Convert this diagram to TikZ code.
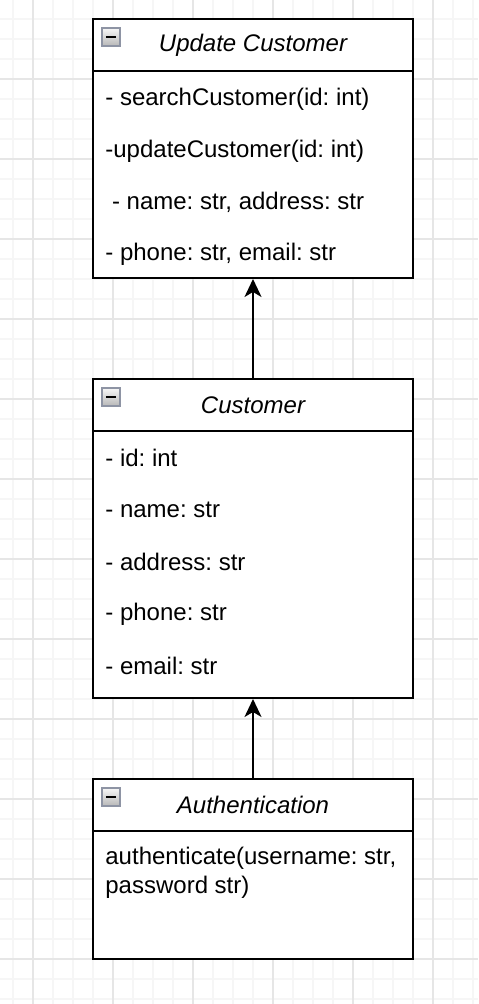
\documentclass[tikz,border=0pt]{standalone}
\usepackage{fontspec}
\setmainfont{Liberation Sans}
\usepackage{tikz}
\usetikzlibrary{arrows.meta}
\frenchspacing

\definecolor{minorgrid}{HTML}{F6F6F6}
\definecolor{majorgrid}{HTML}{E6E6E6}
\definecolor{iconedge}{HTML}{8E94A4}

\begin{document}
\begin{tikzpicture}[x=0.5pt, y=-0.5pt,
  every node/.style={font=\fontsize{12}{14.5}\selectfont},
  classhead/.style={draw, line width=1pt, fill=white, minimum width=160pt, minimum height=26pt, inner sep=0pt, font=\fontsize{12}{14.5}\selectfont\itshape},
  classbody/.style={draw, line width=1pt, fill=white, minimum width=160pt, inner sep=0pt},
  member/.style={anchor=west, inner sep=0pt},
  minusbox/.style={draw=iconedge, line width=0.9pt, top color=black!3, bottom color=black!28, minimum size=9pt, inner sep=0pt,
    path picture={\draw[black, line width=1.3pt] ([xshift=1.9pt]path picture bounding box.west) -- ([xshift=-1.9pt]path picture bounding box.east);}},
  inherit/.style={line width=1pt, -{Stealth[length=9pt, width=8.5pt, inset=2.5pt]}}]

\useasboundingbox (0,0) rectangle (478,1004);
\fill[white] (0,0) rectangle (478,1004);

% background grid
\foreach \x in {13,33,...,473}
  \draw[minorgrid, line width=0.6pt] (\x,0) -- (\x,1004);
\foreach \y in {19,39,...,999}
  \draw[minorgrid, line width=0.6pt] (0,\y) -- (478,\y);
\foreach \x in {33,113,...,433}
  \draw[majorgrid, line width=0.6pt] (\x,0) -- (\x,1004);
\foreach \y in {79,159,...,959}
  \draw[majorgrid, line width=0.6pt] (0,\y) -- (478,\y);

% Update Customer
\node[classhead] (updhead) at (253,45) {Update Customer};
\node[classbody, minimum height=103.5pt] (updbody) at (253,174.5) {};
\node[minusbox] (updicon) at (111,37) {};
\node[member] (upd1) at (105,99) {- searchCustomer(id: int)};
\node[member] (upd2) at (105,151) {-updateCustomer(id: int)};
\node[member] (upd3) at (105,202) {\ - name: str, address: str};
\node[member] (upd4) at (105,254) {- phone: str, email: str};

% Customer
\node[classhead] (custhead) at (253,405) {Customer};
\node[classbody, minimum height=133.5pt] (custbody) at (253,564.5) {};
\node[minusbox] (custicon) at (111,397) {};
\node[member] (cust1) at (105,458) {- id: int};
\node[member] (cust2) at (105,510) {- name: str};
\node[member] (cust3) at (105,562) {- address: str};
\node[member] (cust4) at (105,614) {- phone: str};
\node[member] (cust5) at (105,666) {- email: str};

% Authentication
\node[classhead] (authhead) at (253,805) {Authentication};
\node[classbody, minimum height=64pt] (authbody) at (253,895) {};
\node[minusbox] (authicon) at (111,797) {};
\node[member, align=left] (auth1) at (105,872.5) {authenticate(username: str,\\password str)};

% connectors
\draw[inherit] (custhead.north) -- (updbody.south);
\draw[inherit] (authhead.north) -- (custbody.south);
\end{tikzpicture}
\end{document}
